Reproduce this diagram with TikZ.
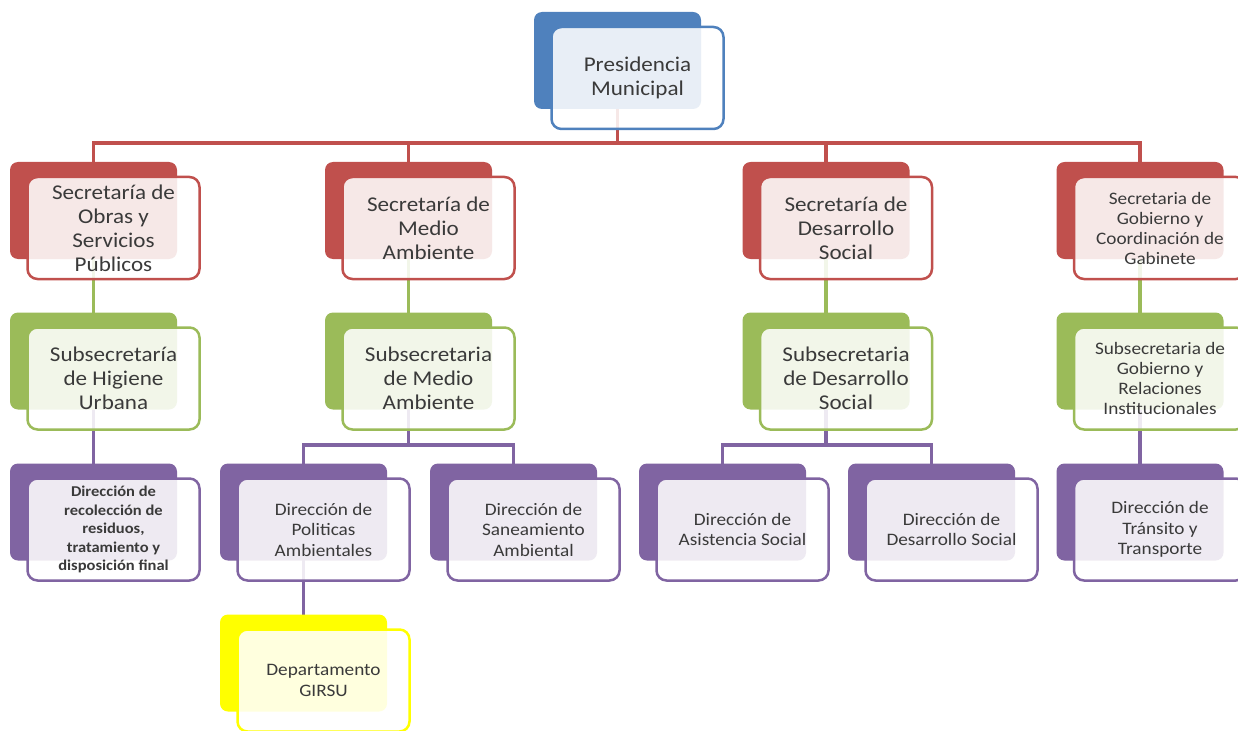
\documentclass[tikz,border=0pt]{standalone}
\usepackage{fontspec}
\setmainfont{Carlito}[FakeStretch=1.1]
\usetikzlibrary{backgrounds}
\definecolor{cRed}{HTML}{C0504D}
\definecolor{cGreen}{HTML}{9BBB59}
\definecolor{cPurple}{HTML}{8064A2}
\definecolor{cBlue}{HTML}{4F81BD}
\definecolor{cYellow}{HTML}{FFFF00}
\definecolor{cText}{HTML}{3A3A3A}
\newcommand\fntMain{\fontsize{21}{24}\selectfont}
\newcommand\fntGob{\fontsize{17.5}{20}\selectfont}
\newcommand\fntDir{\fontsize{17.5}{20.5}\selectfont}
\newcommand\fntRec{\fontsize{15}{18.5}\selectfont\bfseries}
% one chart unit: a filled back card and a framed, translucent front card
\newcommand\orgunit[6]{%
  \node[backcard=#2] (#1B) at (#3,#4) {};
  \node[frontcard=#2, font=#5] (#1) at (#3+20,#4+17.5) {#6};}
\begin{document}
\begin{tikzpicture}[x=1pt,y=-1pt,
  backcard/.style={fill=#1, draw=none, rounded corners=8pt, inner sep=0pt,
    minimum width=167pt, minimum height=97pt},
  frontcard/.style={draw=#1, line width=2.5pt, fill=white, fill opacity=0.87,
    text opacity=1, text=cText, rounded corners=10pt, inner sep=0pt,
    minimum width=172pt, minimum height=102pt, align=center},
  link/.style={line width=3.2pt, draw=#1}]
\useasboundingbox (0,0) rectangle (1238,730);

% top
\orgunit{p}{cBlue}{617.5}{60.5}{\fntMain}{Presidencia\\Municipal}

% secretarías
\orgunit{s1}{cRed}{93.5}{210.5}{\fntMain}{Secretaría de\\Obras y\\Servicios\\Públicos}
\orgunit{s2}{cRed}{408.5}{210.5}{\fntMain}{Secretaría de\\Medio\\Ambiente}
\orgunit{s3}{cRed}{826}{210.5}{\fntMain}{Secretaría de\\Desarrollo\\Social}
\orgunit{s4}{cRed}{1140}{210.5}{\fntGob}{Secretaria de\\Gobierno y\\Coordinación de\\Gabinete}

% subsecretarías
\orgunit{g1}{cGreen}{93.5}{361}{\fntMain}{Subsecretaría\\de Higiene\\Urbana}
\orgunit{g2}{cGreen}{408.5}{361}{\fntMain}{Subsecretaria\\de Medio\\Ambiente}
\orgunit{g3}{cGreen}{826}{361}{\fntMain}{Subsecretaria\\de Desarrollo\\Social}
\orgunit{g4}{cGreen}{1140}{361}{\fntGob}{Subsecretaria de\\Gobierno y\\Relaciones\\Institucionales}

% direcciones
\orgunit{d1}{cPurple}{93.5}{512}{\fntRec\color{black!90}}{Dirección de\\recolección de\\residuos,\\tratamiento y\\disposición final}
\orgunit{d2}{cPurple}{303.5}{512}{\fntDir}{Dirección de\\Politicas\\Ambientales}
\orgunit{d3}{cPurple}{513.5}{512}{\fntDir}{Dirección de\\Saneamiento\\Ambiental}
\orgunit{d4}{cPurple}{722.5}{512}{\fntDir}{Dirección de\\Asistencia Social}
\orgunit{d5}{cPurple}{931.5}{512}{\fntDir}{Dirección de\\Desarrollo Social}
\orgunit{d6}{cPurple}{1140}{512}{\fntDir}{Dirección de\\Tránsito y\\Transporte}

% departamento
\orgunit{y1}{cYellow}{303.5}{663}{\fntDir}{Departamento\\GIRSU}

\begin{scope}[on background layer]
  \coordinate (bus) at (0,143);
  \coordinate (pbus) at (0,445);
  \draw[link=cRed] (pB.center) -- (pB.center |- bus);
  \draw[link=cRed] (s1B.center) |- (s4B.center |- bus) -- (s4B.center);
  \draw[link=cRed] (s2B.center) -- (s2B.center |- bus);
  \draw[link=cRed] (s3B.center) -- (s3B.center |- bus);
  \draw[link=cGreen] (s1B.center) -- (g1B.center);
  \draw[link=cGreen] (s2B.center) -- (g2B.center);
  \draw[link=cGreen] (s3B.center) -- (g3B.center);
  \draw[link=cGreen] (s4B.center) -- (g4B.center);
  \draw[link=cPurple] (g1B.center) -- (d1B.center);
  \draw[link=cPurple] (g2B.center) -- (g2B.center |- pbus);
  \draw[link=cPurple] (d2B.center) |- (d3B.center |- pbus) -- (d3B.center);
  \draw[link=cPurple] (g3B.center) -- (g3B.center |- pbus);
  \draw[link=cPurple] (d4B.center) |- (d5B.center |- pbus) -- (d5B.center);
  \draw[link=cPurple] (g4B.center) -- (d6B.center);
  \draw[link=cPurple] (d2B.center) -- (y1B.center);
\end{scope}
\end{tikzpicture}
\end{document}
